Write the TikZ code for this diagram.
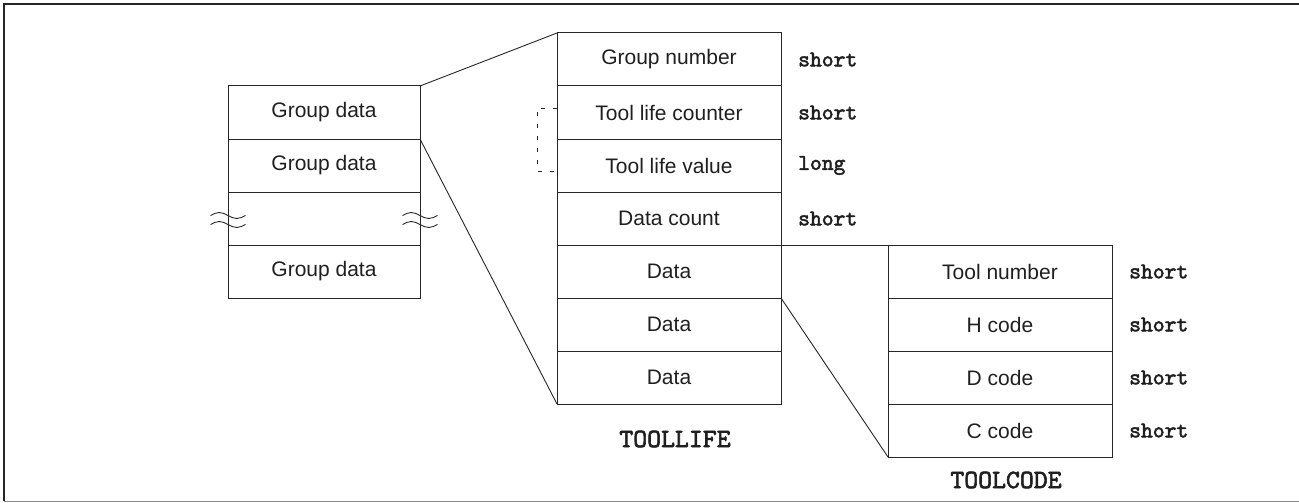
\documentclass[tikz,border=0pt]{standalone}
\usepackage{fontspec}
\setmainfont{Liberation Sans}
\newfontfamily\typefont[AutoFakeBold=2.2]{lmmono10-regular.otf}
\usetikzlibrary{positioning}

\begin{document}
\begin{tikzpicture}[
    x=1pt, y=-1pt,
    node distance=0pt,
    every node/.style={font=\fontsize{21}{24}\selectfont, text=black!88},
    cell/.style={draw=black!85, line width=1pt, minimum height=53pt, outer sep=0pt, inner sep=0pt},
    grpcell/.style={cell, minimum width=192pt},
    fldcell/.style={cell, minimum width=224pt},
    ctype/.style={font=\fontsize{22.5}{26}\selectfont\typefont\bfseries, anchor=west, inner sep=0pt},
    sname/.style={font=\fontsize{26.5}{30}\selectfont\typefont\bfseries, inner sep=0pt},
    link/.style={draw=black!85, line width=0.9pt},
    wave/.style={draw=black!85, line width=0.9pt},
    dashbrk/.style={draw=black!85, line width=0.9pt, dash pattern=on 4pt off 8pt}
]
\useasboundingbox (0,0) rectangle (1299,503);
% frame
\draw[black!85, line width=2pt] (1299,4) -- (4,4) -- (4,501);
\draw[black!45, line width=1pt] (4,501) -- (1299,501);

% group list
\node[grpcell, anchor=north west] (grp1) at (228,86) {Group data};
\node[grpcell, below=of grp1] (grp2) {Group data};
\node[grpcell, below=of grp2] (grpgap) {};
\node[grpcell, below=of grpgap] (grpn) {Group data};
\foreach \side in {west,east}
  \foreach \dy in {-3,6}
    \draw[wave] ([shift={(-17.5,\dy)}]grpgap.\side) sin ++(8.75,-3) cos ++(8.75,3) sin ++(8.75,3) cos ++(8.75,-3);

% TOOLLIFE
\node[fldcell, anchor=north west] (gnum) at (557,33) {Group number};
\node[fldcell, below=of gnum] (tlc) {Tool life counter};
\node[fldcell, below=of tlc] (tlv) {Tool life value};
\node[fldcell, below=of tlv] (dcnt) {Data count};
\node[fldcell, below=of dcnt] (dat1) {Data};
\node[fldcell, below=of dat1] (dat2) {Data};
\node[fldcell, below=of dat2] (dat3) {Data};
\foreach \f/\t in {gnum/short, tlc/short, tlv/long, dcnt/short}
  \node[ctype] (\f-t) at ([xshift=17pt]\f.east) {\t};
\node[sname] (tllbl) at ([shift={(6,35)}]dat3.south) {TOOLLIFE};
\draw[dashbrk] ([shift={(0,-4.5)}]tlc.west) -- ++(-20,0) -- ++(0,63) -- ++(20,0);

% TOOLCODE
\node[fldcell, anchor=north west] (tnum) at (888,245) {Tool number};
\node[fldcell, below=of tnum] (hcode) {H code};
\node[fldcell, below=of hcode] (dcode) {D code};
\node[fldcell, below=of dcode] (ccode) {C code};
\foreach \f in {tnum, hcode, dcode, ccode}
  \node[ctype] (\f-t) at ([xshift=17pt]\f.east) {short};
\node[sname] (tclbl) at ([shift={(6,23)}]ccode.south) {TOOLCODE};

% expansion lines
\draw[link] (grp1.north east) -- (gnum.north west);
\draw[link] (grp1.south east) -- (dat3.south west);
\draw[link] (dat1.north east) -- (tnum.north west);
\draw[link] (dat1.south east) -- (ccode.south west);
\end{tikzpicture}
\end{document}
